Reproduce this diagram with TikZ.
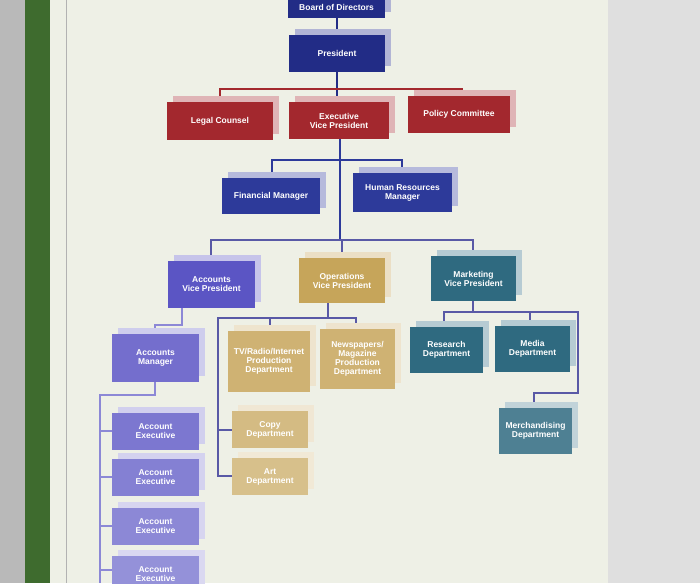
\documentclass[tikz,border=0pt]{standalone}
\usepackage{fontspec}
\setmainfont{Liberation Sans}
\begin{document}
\begin{tikzpicture}[x=1pt,y=-1pt,
  box/.style={text=white,font=\bfseries\fontsize{8.5}{9}\selectfont,align=center,inner sep=0pt},
]
\definecolor{dblue}{HTML}{222C86}
\definecolor{dred}{HTML}{A3282E}
\definecolor{mblue}{HTML}{2D3A9A}
\definecolor{purp}{HTML}{5B55C4}
\definecolor{tan}{HTML}{C6A55A}
\definecolor{teal}{HTML}{2F6A80}
\definecolor{pagec}{HTML}{EEF0E6}
\definecolor{strip}{HTML}{3E6B2E}
\useasboundingbox (0,0) rectangle (700,583);
\fill[gray!55] (0,0) rectangle (700,583);
\fill[strip] (25,0) rectangle (50,583);
\fill[pagec] (50,0) rectangle (608,583);
\fill[gray!25] (608,0) rectangle (700,583);
\draw[gray!60,line width=1pt] (66,0) -- (66,583);
\newcommand{\obox}[7]{% name, color, x1,y1,x2,y2, text
  \colorlet{tmpc}{#2}%
  \fill[tmpc!35!white] (#3+6,#4-6) rectangle (#5+6,#6-6);
  \fill[tmpc] (#3,#4) rectangle (#5,#6);
  \node[box] (#1) at ({(#3+#5)/2},{(#4+#6)/2}) {#7};
}
\begin{scope}[line width=1.2pt]
\draw[dblue] (337,18) -- (337,35);
\draw[dblue] (337,72) -- (337,102);
\draw[dred] (220,102) -- (220,89) -- (462,89) -- (462,96);
\draw[mblue] (340,139) -- (340,240);
\draw[mblue] (272,178) -- (272,160) -- (402,160) -- (402,173);
\draw[gray!70!blue] (211,261) -- (211,240) -- (473,240) -- (473,256);
\draw[gray!70!blue] (342,240) -- (342,258);
\draw[purp!70] (182,308) -- (182,325) -- (155,325) -- (155,334);
\draw[purp!70] (155,382) -- (155,395) -- (100,395) -- (100,583);
\draw[purp!70] (100,431) -- (112,431) (100,477) -- (112,477) (100,526) -- (112,526) (100,570) -- (112,570);
\draw[gray!70!blue] (328,303) -- (328,318);
\draw[gray!70!blue] (270,331) -- (270,318) -- (356,318) -- (356,329);
\draw[gray!70!blue] (270,318) -- (218,318) -- (218,476) -- (232,476);
\draw[gray!70!blue] (218,430) -- (232,430);
\draw[gray!70!blue] (473,301) -- (473,312);
\draw[gray!70!blue] (444,327) -- (444,312) -- (578,312) -- (578,393) -- (534,393) -- (534,408);
\draw[gray!70!blue] (530,312) -- (530,326);
\end{scope}
\obox{bod}{dblue}{288}{-4}{385}{18}{Board of Directors}
\obox{pres}{dblue}{289}{35}{385}{72}{President}
\obox{legal}{dred}{167}{102}{273}{140}{Legal Counsel}
\obox{evp}{dred}{289}{102}{389}{139}{Executive\\Vice President}
\obox{policy}{dred}{408}{96}{510}{133}{Policy Committee}
\obox{fin}{mblue}{222}{178}{320}{214}{Financial Manager}
\obox{hr}{mblue}{353}{173}{452}{212}{Human Resources\\Manager}
\obox{avp}{purp}{168}{261}{255}{308}{Accounts\\Vice President}
\obox{ovp}{tan}{299}{258}{385}{303}{Operations\\Vice President}
\obox{mvp}{teal}{431}{256}{516}{301}{Marketing\\Vice President}
\obox{am}{purp!85}{112}{334}{199}{382}{Accounts\\Manager}
\obox{tv}{tan!85}{228}{331}{310}{392}{TV/Radio/Internet\\Production\\Department}
\obox{np}{tan!85}{320}{329}{395}{389}{Newspapers/\\Magazine\\Production\\Department}
\obox{res}{teal}{410}{327}{483}{373}{Research\\Department}
\obox{med}{teal}{495}{326}{570}{372}{Media\\Department}
\obox{mer}{teal!85}{499}{408}{572}{454}{Merchandising\\Department}
\obox{copy}{tan!75}{232}{411}{308}{448}{Copy\\Department}
\obox{art}{tan!70}{232}{458}{308}{495}{Art\\Department}
\obox{ae1}{purp!80}{112}{413}{199}{450}{Account\\Executive}
\obox{ae2}{purp!75}{112}{459}{199}{496}{Account\\Executive}
\obox{ae3}{purp!70}{112}{508}{199}{545}{Account\\Executive}
\obox{ae4}{purp!65}{112}{556}{199}{593}{Account\\Executive}
\end{tikzpicture}
\end{document}
